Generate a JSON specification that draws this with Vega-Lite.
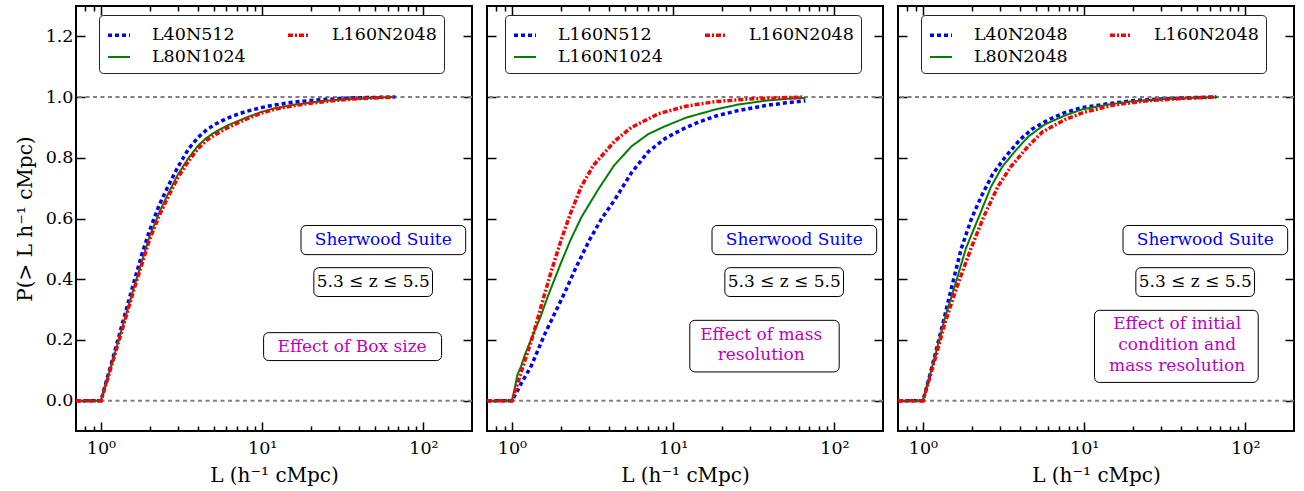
{
  "$schema": "https://vega.github.io/schema/vega-lite/v6.json",
  "padding": {"left": 14, "top": 4, "right": 5, "bottom": 0},
  "background": "white",
  "spacing": 5,
  "datasets": {
    "c1": [
      {"s":"L40N512","L":0.7,"P":0},{"s":"L40N512","L":1.0,"P":0},{"s":"L40N512","L":1.1,"P":0.08},{"s":"L40N512","L":1.2,"P":0.15},{"s":"L40N512","L":1.4,"P":0.28},{"s":"L40N512","L":1.6,"P":0.39},{"s":"L40N512","L":1.8,"P":0.485},{"s":"L40N512","L":2.0,"P":0.56},{"s":"L40N512","L":2.3,"P":0.645},{"s":"L40N512","L":2.6,"P":0.705},{"s":"L40N512","L":3.0,"P":0.77},{"s":"L40N512","L":3.5,"P":0.83},{"s":"L40N512","L":4.0,"P":0.867},{"s":"L40N512","L":4.5,"P":0.891},{"s":"L40N512","L":5,"P":0.908},{"s":"L40N512","L":6,"P":0.929},{"s":"L40N512","L":7,"P":0.943},{"s":"L40N512","L":8,"P":0.953},{"s":"L40N512","L":10,"P":0.966},{"s":"L40N512","L":12,"P":0.974},{"s":"L40N512","L":15,"P":0.982},{"s":"L40N512","L":20,"P":0.989},{"s":"L40N512","L":30,"P":0.995},{"s":"L40N512","L":40,"P":0.998},{"s":"L40N512","L":67,"P":1.0},
      {"s":"L80N1024","L":0.7,"P":0},{"s":"L80N1024","L":1.0,"P":0},{"s":"L80N1024","L":1.1,"P":0.075},{"s":"L80N1024","L":1.2,"P":0.144},{"s":"L80N1024","L":1.4,"P":0.266},{"s":"L80N1024","L":1.6,"P":0.372},{"s":"L80N1024","L":1.8,"P":0.46},{"s":"L80N1024","L":2.0,"P":0.54},{"s":"L80N1024","L":2.3,"P":0.62},{"s":"L80N1024","L":2.6,"P":0.68},{"s":"L80N1024","L":3.0,"P":0.745},{"s":"L80N1024","L":3.5,"P":0.8},{"s":"L80N1024","L":4.0,"P":0.84},{"s":"L80N1024","L":4.5,"P":0.865},{"s":"L80N1024","L":5,"P":0.882},{"s":"L80N1024","L":6,"P":0.905},{"s":"L80N1024","L":7,"P":0.92},{"s":"L80N1024","L":8,"P":0.933},{"s":"L80N1024","L":10,"P":0.952},{"s":"L80N1024","L":12,"P":0.963},{"s":"L80N1024","L":15,"P":0.973},{"s":"L80N1024","L":20,"P":0.982},{"s":"L80N1024","L":25,"P":0.988},{"s":"L80N1024","L":30,"P":0.991},{"s":"L80N1024","L":40,"P":0.995},{"s":"L80N1024","L":50,"P":0.998},{"s":"L80N1024","L":64,"P":1.0},
      {"s":"L160N2048","L":0.7,"P":0},{"s":"L160N2048","L":1.0,"P":0},{"s":"L160N2048","L":1.1,"P":0.072},{"s":"L160N2048","L":1.2,"P":0.14},{"s":"L160N2048","L":1.4,"P":0.26},{"s":"L160N2048","L":1.6,"P":0.365},{"s":"L160N2048","L":1.8,"P":0.452},{"s":"L160N2048","L":2.0,"P":0.53},{"s":"L160N2048","L":2.3,"P":0.61},{"s":"L160N2048","L":2.6,"P":0.67},{"s":"L160N2048","L":3.0,"P":0.735},{"s":"L160N2048","L":3.5,"P":0.79},{"s":"L160N2048","L":4.0,"P":0.83},{"s":"L160N2048","L":4.5,"P":0.857},{"s":"L160N2048","L":5,"P":0.873},{"s":"L160N2048","L":6,"P":0.897},{"s":"L160N2048","L":7,"P":0.914},{"s":"L160N2048","L":8,"P":0.928},{"s":"L160N2048","L":10,"P":0.948},{"s":"L160N2048","L":12,"P":0.96},{"s":"L160N2048","L":15,"P":0.97},{"s":"L160N2048","L":20,"P":0.98},{"s":"L160N2048","L":30,"P":0.99},{"s":"L160N2048","L":40,"P":0.995},{"s":"L160N2048","L":65,"P":1.0}
    ],
    "c2": [
      {"s":"L160N512","L":0.7,"P":0},{"s":"L160N512","L":1.0,"P":0},{"s":"L160N512","L":1.05,"P":0.02},{"s":"L160N512","L":1.15,"P":0.06},{"s":"L160N512","L":1.313,"P":0.113},{"s":"L160N512","L":1.6,"P":0.22},{"s":"L160N512","L":2.12,"P":0.355},{"s":"L160N512","L":2.5,"P":0.44},{"s":"L160N512","L":3.03,"P":0.53},{"s":"L160N512","L":3.6,"P":0.6},{"s":"L160N512","L":4.34,"P":0.662},{"s":"L160N512","L":5.5,"P":0.75},{"s":"L160N512","L":7.0,"P":0.82},{"s":"L160N512","L":9,"P":0.865},{"s":"L160N512","L":11.3,"P":0.893},{"s":"L160N512","L":14,"P":0.915},{"s":"L160N512","L":18.2,"P":0.937},{"s":"L160N512","L":25,"P":0.955},{"s":"L160N512","L":37.3,"P":0.972},{"s":"L160N512","L":50,"P":0.981},{"s":"L160N512","L":66,"P":0.988},
      {"s":"L160N1024","L":0.7,"P":0},{"s":"L160N1024","L":1.0,"P":0},{"s":"L160N1024","L":1.04,"P":0.04},{"s":"L160N1024","L":1.08,"P":0.085},{"s":"L160N1024","L":1.138,"P":0.113},{"s":"L160N1024","L":1.2,"P":0.15},{"s":"L160N1024","L":1.313,"P":0.201},{"s":"L160N1024","L":1.5,"P":0.275},{"s":"L160N1024","L":1.67,"P":0.344},{"s":"L160N1024","L":2.0,"P":0.45},{"s":"L160N1024","L":2.31,"P":0.53},{"s":"L160N1024","L":2.7,"P":0.605},{"s":"L160N1024","L":3.42,"P":0.695},{"s":"L160N1024","L":4.3,"P":0.775},{"s":"L160N1024","L":5.52,"P":0.838},{"s":"L160N1024","L":7,"P":0.878},{"s":"L160N1024","L":8.9,"P":0.904},{"s":"L160N1024","L":12,"P":0.932},{"s":"L160N1024","L":18.2,"P":0.959},{"s":"L160N1024","L":25,"P":0.975},{"s":"L160N1024","L":37.3,"P":0.988},{"s":"L160N1024","L":50,"P":0.994},{"s":"L160N1024","L":66,"P":0.997},
      {"s":"L160N2048","L":0.7,"P":0},{"s":"L160N2048","L":1.0,"P":0},{"s":"L160N2048","L":1.085,"P":0.058},{"s":"L160N2048","L":1.2,"P":0.13},{"s":"L160N2048","L":1.35,"P":0.215},{"s":"L160N2048","L":1.516,"P":0.311},{"s":"L160N2048","L":1.75,"P":0.425},{"s":"L160N2048","L":2.02,"P":0.53},{"s":"L160N2048","L":2.3,"P":0.615},{"s":"L160N2048","L":2.69,"P":0.705},{"s":"L160N2048","L":3.2,"P":0.775},{"s":"L160N2048","L":4.34,"P":0.855},{"s":"L160N2048","L":5.5,"P":0.9},{"s":"L160N2048","L":8.1,"P":0.945},{"s":"L160N2048","L":12,"P":0.97},{"s":"L160N2048","L":18.2,"P":0.985},{"s":"L160N2048","L":30,"P":0.994},{"s":"L160N2048","L":63,"P":1.0}
    ],
    "c3": [
      {"s":"L40N2048","L":0.7,"P":0},{"s":"L40N2048","L":1.0,"P":0},{"s":"L40N2048","L":1.1,"P":0.082},{"s":"L40N2048","L":1.2,"P":0.16},{"s":"L40N2048","L":1.358,"P":0.275},{"s":"L40N2048","L":1.5,"P":0.37},{"s":"L40N2048","L":1.725,"P":0.5},{"s":"L40N2048","L":2.0,"P":0.6},{"s":"L40N2048","L":2.3,"P":0.673},{"s":"L40N2048","L":2.7,"P":0.745},{"s":"L40N2048","L":3.21,"P":0.8},{"s":"L40N2048","L":4.0,"P":0.86},{"s":"L40N2048","L":4.71,"P":0.893},{"s":"L40N2048","L":6,"P":0.925},{"s":"L40N2048","L":7.5,"P":0.948},{"s":"L40N2048","L":9.65,"P":0.965},{"s":"L40N2048","L":14,"P":0.978},{"s":"L40N2048","L":20,"P":0.988},{"s":"L40N2048","L":30,"P":0.994},{"s":"L40N2048","L":45,"P":0.998},{"s":"L40N2048","L":66,"P":1.0},
      {"s":"L80N2048","L":0.7,"P":0},{"s":"L80N2048","L":1.0,"P":0},{"s":"L80N2048","L":1.1,"P":0.08},{"s":"L80N2048","L":1.2,"P":0.155},{"s":"L80N2048","L":1.358,"P":0.267},{"s":"L80N2048","L":1.6,"P":0.39},{"s":"L80N2048","L":1.85,"P":0.503},{"s":"L80N2048","L":2.2,"P":0.6},{"s":"L80N2048","L":2.65,"P":0.706},{"s":"L80N2048","L":3.1,"P":0.77},{"s":"L80N2048","L":3.7,"P":0.82},{"s":"L80N2048","L":4.5,"P":0.87},{"s":"L80N2048","L":5.7,"P":0.91},{"s":"L80N2048","L":7.5,"P":0.938},{"s":"L80N2048","L":9.65,"P":0.959},{"s":"L80N2048","L":14,"P":0.975},{"s":"L80N2048","L":19.8,"P":0.986},{"s":"L80N2048","L":30,"P":0.993},{"s":"L80N2048","L":45,"P":0.997},{"s":"L80N2048","L":67,"P":1.0},
      {"s":"L160N2048","L":0.7,"P":0},{"s":"L160N2048","L":1.0,"P":0},{"s":"L160N2048","L":1.1,"P":0.075},{"s":"L160N2048","L":1.2,"P":0.145},{"s":"L160N2048","L":1.358,"P":0.25},{"s":"L160N2048","L":1.6,"P":0.365},{"s":"L160N2048","L":1.8,"P":0.44},{"s":"L160N2048","L":1.99,"P":0.503},{"s":"L160N2048","L":2.4,"P":0.61},{"s":"L160N2048","L":2.92,"P":0.706},{"s":"L160N2048","L":3.5,"P":0.77},{"s":"L160N2048","L":4.49,"P":0.838},{"s":"L160N2048","L":5.5,"P":0.885},{"s":"L160N2048","L":7.6,"P":0.926},{"s":"L160N2048","L":10,"P":0.95},{"s":"L160N2048","L":15.6,"P":0.975},{"s":"L160N2048","L":25,"P":0.988},{"s":"L160N2048","L":40,"P":0.995},{"s":"L160N2048","L":64,"P":1.0}
    ],
    "refs": [{"ref": 0}, {"ref": 1}]
  },
  "hconcat": [
    {
      "width": 396, "height": 425,
      "layer": [
        {"data": {"name": "refs"}, "mark": {"type": "rule", "color": "#808080", "strokeDash": [4, 3.5], "strokeWidth": 2}, "encoding": {"y": {"field": "ref", "type": "quantitative", "scale": {"domain": [-0.1, 1.3], "nice": false, "zero": false}, "axis": null}}},
        {"data": {"name": "c1"}, "mark": {"type": "line"}, "encoding": {
          "x": {"field": "L", "type": "quantitative", "scale": {"type": "log", "domain": [0.7, 200], "nice": false}, "axis": {"orient": "bottom", "values": [0.8,0.9,1,2,3,4,5,6,7,8,9,10,20,30,40,50,60,70,80,90,100], "labelExpr": "datum.value==1?'10⁰':datum.value==10?'10¹':datum.value==100?'10²':''", "labelOverlap": false, "labelFlush": false, "tickSize": {"condition": {"test": "datum.value==1||datum.value==10||datum.value==100", "value": -9}, "value": -5}, "labelPadding": 17, "title": "L (h⁻¹ cMpc)", "titlePadding": 5}},
          "y": {"field": "P", "type": "quantitative", "scale": {"domain": [-0.1, 1.3], "nice": false, "zero": false}, "axis": {"orient": "left", "values": [0,0.2,0.4,0.6,0.8,1.0,1.2], "format": ".1f", "tickSize": -9, "labelPadding": 12, "title": "P(> L h⁻¹ cMpc)", "titlePadding": 10}},
          "color": {"field": "s", "type": "nominal", "scale": {"domain": ["L40N512","L80N1024","L160N2048"], "range": ["#0000ff","#008000","#ff0000"]}, "legend": {"title": null, "orient": "none", "legendX": 23, "legendY": 9, "columns": 2}},
          "strokeDash": {"field": "s", "type": "nominal", "scale": {"domain": ["L40N512","L80N1024","L160N2048"], "range": [[4,3],[1,0],[5,2,2,2]]}, "legend": {"title": null, "orient": "none", "legendX": 23, "legendY": 9, "columns": 2}},
          "strokeWidth": {"field": "s", "type": "nominal", "scale": {"type": "ordinal", "domain": ["L40N512","L80N1024","L160N2048"], "range": [3.5,2,3.5]}, "legend": {"title": null, "orient": "none", "legendX": 23, "legendY": 9, "columns": 2}}
        }},
        {"data": {"values": [{"x1":17.4,"x2":182.7,"y1":0.481,"y2":0.577},{"x1":20.9,"x2":113.8,"y1":0.343,"y2":0.438},{"x1":10.2,"x2":129.5,"y1":0.132,"y2":0.224}]}, "mark": {"type": "rect", "fill": "white", "stroke": "black", "strokeWidth": 1, "cornerRadius": 5}, "encoding": {
          "x": {"field": "x1", "type": "quantitative", "scale": {"type": "log", "domain": [0.7, 200], "nice": false}, "axis": {"orient": "top", "values": [0.8,0.9,1,2,3,4,5,6,7,8,9,10,20,30,40,50,60,70,80,90,100], "labels": false, "tickSize": {"condition": {"test": "datum.value==1||datum.value==10||datum.value==100", "value": -9}, "value": -5}, "title": null}},
          "x2": {"field": "x2"},
          "y": {"field": "y1", "type": "quantitative", "scale": {"domain": [-0.1, 1.3], "nice": false, "zero": false}, "axis": {"orient": "right", "values": [0,0.2,0.4,0.6,0.8,1.0,1.2], "labels": false, "tickSize": -9, "title": null}},
          "y2": {"field": "y2"}
        }},
        {"data": {"values": [{"t": "Sherwood Suite", "x": 56.3, "y": 0.53}]}, "mark": {"type": "text", "color": "#0000ff", "fontSize": 17, "font": "DejaVu Serif", "align": "center", "baseline": "middle"}, "encoding": {"x": {"field": "x", "type": "quantitative", "axis": null}, "y": {"field": "y", "type": "quantitative", "axis": null}, "text": {"field": "t"}}},
        {"data": {"values": [{"t": "5.3 ≤ z ≤ 5.5", "x": 48.8, "y": 0.392}]}, "mark": {"type": "text", "color": "black", "fontSize": 17, "font": "DejaVu Serif", "align": "center", "baseline": "middle"}, "encoding": {"x": {"field": "x", "type": "quantitative", "axis": null}, "y": {"field": "y", "type": "quantitative", "axis": null}, "text": {"field": "t"}}},
        {"data": {"values": [{"t": "Effect of Box size", "x": 36.1, "y": 0.178}]}, "mark": {"type": "text", "color": "#bf00bf", "fontSize": 17, "font": "DejaVu Serif", "align": "center", "baseline": "middle", "lineBreak": "\n", "lineHeight": 21}, "encoding": {"x": {"field": "x", "type": "quantitative", "axis": null}, "y": {"field": "y", "type": "quantitative", "axis": null}, "text": {"field": "t"}}}
      ],
      "resolve": {"axis": {"x": "independent", "y": "independent"}}
    },
    {
      "width": 396, "height": 425,
      "layer": [
        {"data": {"name": "refs"}, "mark": {"type": "rule", "color": "#808080", "strokeDash": [4, 3.5], "strokeWidth": 2}, "encoding": {"y": {"field": "ref", "type": "quantitative", "scale": {"domain": [-0.1, 1.3], "nice": false, "zero": false}, "axis": null}}},
        {"data": {"name": "c2"}, "mark": {"type": "line"}, "encoding": {
          "x": {"field": "L", "type": "quantitative", "scale": {"type": "log", "domain": [0.7, 200], "nice": false}, "axis": {"orient": "bottom", "values": [0.8,0.9,1,2,3,4,5,6,7,8,9,10,20,30,40,50,60,70,80,90,100], "labelExpr": "datum.value==1?'10⁰':datum.value==10?'10¹':datum.value==100?'10²':''", "labelOverlap": false, "labelFlush": false, "tickSize": {"condition": {"test": "datum.value==1||datum.value==10||datum.value==100", "value": -9}, "value": -5}, "labelPadding": 17, "title": "L (h⁻¹ cMpc)", "titlePadding": 5}},
          "y": {"field": "P", "type": "quantitative", "scale": {"domain": [-0.1, 1.3], "nice": false, "zero": false}, "axis": {"orient": "left", "values": [0,0.2,0.4,0.6,0.8,1.0,1.2], "labels": false, "tickSize": -9, "title": null}},
          "color": {"field": "s", "type": "nominal", "scale": {"domain": ["L160N512","L160N1024","L160N2048"], "range": ["#0000ff","#008000","#ff0000"]}, "legend": {"title": null, "orient": "none", "legendX": 18, "legendY": 9, "columns": 2}},
          "strokeDash": {"field": "s", "type": "nominal", "scale": {"domain": ["L160N512","L160N1024","L160N2048"], "range": [[4,3],[1,0],[5,2,2,2]]}, "legend": {"title": null, "orient": "none", "legendX": 18, "legendY": 9, "columns": 2}},
          "strokeWidth": {"field": "s", "type": "nominal", "scale": {"type": "ordinal", "domain": ["L160N512","L160N1024","L160N2048"], "range": [3.5,2,3.5]}, "legend": {"title": null, "orient": "none", "legendX": 18, "legendY": 9, "columns": 2}}
        }},
        {"data": {"values": [{"x1":17.4,"x2":182.7,"y1":0.481,"y2":0.577},{"x1":20.9,"x2":113.8,"y1":0.343,"y2":0.438},{"x1":12.67,"x2":107,"y1":0.0946,"y2":0.2646}]}, "mark": {"type": "rect", "fill": "white", "stroke": "black", "strokeWidth": 1, "cornerRadius": 5}, "encoding": {
          "x": {"field": "x1", "type": "quantitative", "scale": {"type": "log", "domain": [0.7, 200], "nice": false}, "axis": {"orient": "top", "values": [0.8,0.9,1,2,3,4,5,6,7,8,9,10,20,30,40,50,60,70,80,90,100], "labels": false, "tickSize": {"condition": {"test": "datum.value==1||datum.value==10||datum.value==100", "value": -9}, "value": -5}, "title": null}},
          "x2": {"field": "x2"},
          "y": {"field": "y1", "type": "quantitative", "scale": {"domain": [-0.1, 1.3], "nice": false, "zero": false}, "axis": {"orient": "right", "values": [0,0.2,0.4,0.6,0.8,1.0,1.2], "labels": false, "tickSize": -9, "title": null}},
          "y2": {"field": "y2"}
        }},
        {"data": {"values": [{"t": "Sherwood Suite", "x": 56.3, "y": 0.53}]}, "mark": {"type": "text", "color": "#0000ff", "fontSize": 17, "font": "DejaVu Serif", "align": "center", "baseline": "middle"}, "encoding": {"x": {"field": "x", "type": "quantitative", "axis": null}, "y": {"field": "y", "type": "quantitative", "axis": null}, "text": {"field": "t"}}},
        {"data": {"values": [{"t": "5.3 ≤ z ≤ 5.5", "x": 48.8, "y": 0.392}]}, "mark": {"type": "text", "color": "black", "fontSize": 17, "font": "DejaVu Serif", "align": "center", "baseline": "middle"}, "encoding": {"x": {"field": "x", "type": "quantitative", "axis": null}, "y": {"field": "y", "type": "quantitative", "axis": null}, "text": {"field": "t"}}},
        {"data": {"values": [{"t": "Effect of mass\nresolution", "x": 35.1, "y": 0.2175}]}, "mark": {"type": "text", "color": "#bf00bf", "fontSize": 17, "font": "DejaVu Serif", "align": "center", "baseline": "middle", "lineBreak": "\n", "lineHeight": 20}, "encoding": {"x": {"field": "x", "type": "quantitative", "axis": null}, "y": {"field": "y", "type": "quantitative", "axis": null}, "text": {"field": "t"}}}
      ],
      "resolve": {"axis": {"x": "independent", "y": "independent"}}
    },
    {
      "width": 396, "height": 425,
      "layer": [
        {"data": {"name": "refs"}, "mark": {"type": "rule", "color": "#808080", "strokeDash": [4, 3.5], "strokeWidth": 2}, "encoding": {"y": {"field": "ref", "type": "quantitative", "scale": {"domain": [-0.1, 1.3], "nice": false, "zero": false}, "axis": null}}},
        {"data": {"name": "c3"}, "mark": {"type": "line"}, "encoding": {
          "x": {"field": "L", "type": "quantitative", "scale": {"type": "log", "domain": [0.7, 200], "nice": false}, "axis": {"orient": "bottom", "values": [0.8,0.9,1,2,3,4,5,6,7,8,9,10,20,30,40,50,60,70,80,90,100], "labelExpr": "datum.value==1?'10⁰':datum.value==10?'10¹':datum.value==100?'10²':''", "labelOverlap": false, "labelFlush": false, "tickSize": {"condition": {"test": "datum.value==1||datum.value==10||datum.value==100", "value": -9}, "value": -5}, "labelPadding": 17, "title": "L (h⁻¹ cMpc)", "titlePadding": 5}},
          "y": {"field": "P", "type": "quantitative", "scale": {"domain": [-0.1, 1.3], "nice": false, "zero": false}, "axis": {"orient": "left", "values": [0,0.2,0.4,0.6,0.8,1.0,1.2], "labels": false, "tickSize": -9, "title": null}},
          "color": {"field": "s", "type": "nominal", "scale": {"domain": ["L40N2048","L80N2048","L160N2048"], "range": ["#0000ff","#008000","#ff0000"]}, "legend": {"title": null, "orient": "none", "legendX": 23, "legendY": 9, "columns": 2}},
          "strokeDash": {"field": "s", "type": "nominal", "scale": {"domain": ["L40N2048","L80N2048","L160N2048"], "range": [[4,3],[1,0],[5,2,2,2]]}, "legend": {"title": null, "orient": "none", "legendX": 23, "legendY": 9, "columns": 2}},
          "strokeWidth": {"field": "s", "type": "nominal", "scale": {"type": "ordinal", "domain": ["L40N2048","L80N2048","L160N2048"], "range": [3.5,2,3.5]}, "legend": {"title": null, "orient": "none", "legendX": 23, "legendY": 9, "columns": 2}}
        }},
        {"data": {"values": [{"x1":17.4,"x2":182.7,"y1":0.481,"y2":0.577},{"x1":20.9,"x2":113.8,"y1":0.343,"y2":0.438},{"x1":11.58,"x2":120,"y1":0.06,"y2":0.2975}]}, "mark": {"type": "rect", "fill": "white", "stroke": "black", "strokeWidth": 1, "cornerRadius": 5}, "encoding": {
          "x": {"field": "x1", "type": "quantitative", "scale": {"type": "log", "domain": [0.7, 200], "nice": false}, "axis": {"orient": "top", "values": [0.8,0.9,1,2,3,4,5,6,7,8,9,10,20,30,40,50,60,70,80,90,100], "labels": false, "tickSize": {"condition": {"test": "datum.value==1||datum.value==10||datum.value==100", "value": -9}, "value": -5}, "title": null}},
          "x2": {"field": "x2"},
          "y": {"field": "y1", "type": "quantitative", "scale": {"domain": [-0.1, 1.3], "nice": false, "zero": false}, "axis": {"orient": "right", "values": [0,0.2,0.4,0.6,0.8,1.0,1.2], "labels": false, "tickSize": -9, "title": null}},
          "y2": {"field": "y2"}
        }},
        {"data": {"values": [{"t": "Sherwood Suite", "x": 56.3, "y": 0.53}]}, "mark": {"type": "text", "color": "#0000ff", "fontSize": 17, "font": "DejaVu Serif", "align": "center", "baseline": "middle"}, "encoding": {"x": {"field": "x", "type": "quantitative", "axis": null}, "y": {"field": "y", "type": "quantitative", "axis": null}, "text": {"field": "t"}}},
        {"data": {"values": [{"t": "5.3 ≤ z ≤ 5.5", "x": 48.8, "y": 0.392}]}, "mark": {"type": "text", "color": "black", "fontSize": 17, "font": "DejaVu Serif", "align": "center", "baseline": "middle"}, "encoding": {"x": {"field": "x", "type": "quantitative", "axis": null}, "y": {"field": "y", "type": "quantitative", "axis": null}, "text": {"field": "t"}}},
        {"data": {"values": [{"t": "Effect of initial\ncondition and\nmass resolution", "x": 37.7, "y": 0.2527}]}, "mark": {"type": "text", "color": "#bf00bf", "fontSize": 17, "font": "DejaVu Serif", "align": "center", "baseline": "middle", "lineBreak": "\n", "lineHeight": 21}, "encoding": {"x": {"field": "x", "type": "quantitative", "axis": null}, "y": {"field": "y", "type": "quantitative", "axis": null}, "text": {"field": "t"}}}
      ],
      "resolve": {"axis": {"x": "independent", "y": "independent"}}
    }
  ],
  "resolve": {
    "scale": {"color": "independent", "strokeDash": "independent", "strokeWidth": "independent"},
    "legend": {"color": "independent", "strokeDash": "independent", "strokeWidth": "independent"}
  },
  "config": {
    "font": "DejaVu Serif",
    "view": {"stroke": "black", "strokeWidth": 2},
    "axis": {"domain": false, "grid": false, "minExtent": 0, "offset": 0, "labelFont": "DejaVu Serif", "labelFontSize": 17.5, "labelColor": "black", "titleFont": "DejaVu Serif", "titleFontSize": 20, "titleFontWeight": "normal", "titleColor": "black", "tickColor": "black", "tickWidth": 1.5},
    "legend": {"symbolType": "stroke", "symbolSize": 484, "labelFont": "DejaVu Serif", "labelFontSize": 17.5, "labelColor": "black", "fillColor": "white", "strokeColor": "#222222", "cornerRadius": 4, "padding": 7, "columnPadding": 35, "rowPadding": 1, "labelOffset": 20, "labelLimit": 300}
  }
}
